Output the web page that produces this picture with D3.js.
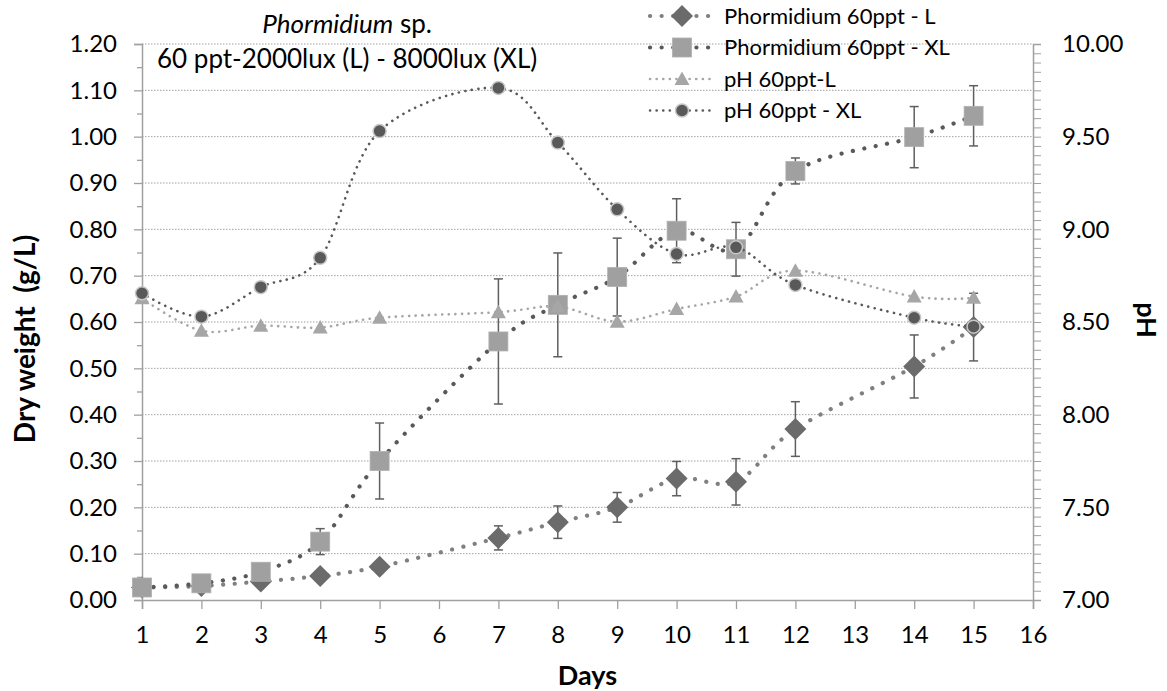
<!DOCTYPE html>
<html>
<head>
<meta charset="utf-8">
<script src="https://cdn.jsdelivr.net/npm/d3@7"></script>
<style>
  body { margin: 0; background: #fff; }
  svg { font-family: Lato, "Liberation Sans", sans-serif; }
</style>
</head>
<body>
<script>
// days for every series
var days = [1, 2, 3, 4, 5, 7, 8, 9, 10, 11, 12, 14, 15];

// dry weight g/L, 2000 lux (L) and its error
var dwL    = [0.027, 0.030, 0.040, 0.052, 0.072, 0.134, 0.168, 0.200, 0.262, 0.255, 0.369, 0.504, 0.589];
var dwLerr = [0, 0, 0, 0, 0, 0.026, 0.035, 0.032, 0.037, 0.050, 0.059, 0.068, 0.073];

// dry weight g/L, 8000 lux (XL) and its error
var dwXL    = [0.027, 0.036, 0.061, 0.126, 0.300, 0.558, 0.637, 0.697, 0.797, 0.757, 0.926, 0.999, 1.045];
var dwXLerr = [0, 0, 0, 0.028, 0.082, 0.135, 0.112, 0.084, 0.069, 0.058, 0.028, 0.066, 0.065];

// pH
var phL  = [8.628, 8.453, 8.480, 8.470, 8.523, 8.553, 8.583, 8.502, 8.570, 8.637, 8.777, 8.637, 8.631];
var phXL = [8.655, 8.529, 8.688, 8.846, 9.530, 9.763, 9.468, 9.108, 8.867, 8.903, 8.700, 8.523, 8.475];

var xTicks = d3.range(1, 17);
var yTicks = d3.range(0, 1.21, 0.1);
var y2Ticks = [7, 7.5, 8, 8.5, 9, 9.5, 10];

var legendNames = ["Phormidium 60ppt - L", "Phormidium 60ppt - XL", "pH 60ppt-L", "pH 60ppt - XL"];

var W = 1167, H = 691;
var pLeft = 142, pRight = 1033, pTop = 44, pBottom = 600;
var axisColor = "#a0a0a0";

var svg = d3.select("body").append("svg")
    .attr("width", W)
    .attr("height", H);

var x = d3.scaleLinear().domain([1, 16]).range([pLeft, pRight]);
var y = d3.scaleLinear().domain([0, 1.2]).range([pBottom, pTop]);
var y2 = d3.scaleLinear().domain([7, 10]).range([pBottom, pTop]);

// gridlines
svg.append("g")
   .selectAll("line")
   .data(yTicks.slice(1))
   .enter().append("line")
   .attr("x1", pLeft).attr("x2", pRight)
   .attr("y1", function(d) { return y(d); })
   .attr("y2", function(d) { return y(d); })
   .attr("stroke", "#a0a0a0")
   .attr("stroke-width", 1)
   .attr("stroke-dasharray", "1.5,1.5");

// left axis, minor ticks first
svg.append("g")
   .attr("transform", "translate(" + pLeft + ",0)")
   .call(d3.axisLeft(y).tickValues(d3.range(0.05, 1.2, 0.1)).tickSize(5).tickFormat(""))
   .call(function(g) { g.select(".domain").remove(); g.selectAll("line").attr("stroke", axisColor).attr("stroke-width", 1.3); });

var yAxis = svg.append("g")
   .attr("transform", "translate(" + pLeft + ",0)")
   .call(d3.axisLeft(y).tickValues(yTicks).tickSize(8).tickPadding(17).tickFormat(d3.format(".2f")));
yAxis.select(".domain").attr("stroke", axisColor).attr("stroke-width", 1.5);
yAxis.selectAll("line").attr("stroke", axisColor).attr("stroke-width", 1.3);
yAxis.selectAll("text").attr("font-size", 24).attr("fill", "#000").attr("font-family", "Lato");

// right axis
var y2Axis = svg.append("g")
   .attr("transform", "translate(" + pRight + ",0)")
   .call(d3.axisRight(y2).tickValues(d3.range(7, 10.001, 0.05)).tickSize(8).tickFormat(""));
y2Axis.select(".domain").attr("stroke", axisColor).attr("stroke-width", 1.5);
y2Axis.selectAll("line").attr("stroke", axisColor).attr("stroke-width", 1);

svg.append("g")
   .selectAll("text")
   .data(y2Ticks)
   .enter().append("text")
   .attr("x", pRight + 29)
   .attr("y", function(d) { return y2(d); })
   .attr("dy", "0.35em")
   .attr("font-size", 24)
   .text(d3.format(".2f"));

// bottom axis
var xAxis = svg.append("g")
   .attr("transform", "translate(0," + pBottom + ")")
   .call(d3.axisBottom(x).tickValues(xTicks).tickSize(9).tickPadding(17));
xAxis.select(".domain").attr("stroke", axisColor).attr("stroke-width", 1.5);
xAxis.selectAll("line").attr("stroke", axisColor).attr("stroke-width", 1.3);
xAxis.selectAll("text").attr("font-size", 24).attr("fill", "#000").attr("font-family", "Lato");

// axis titles
svg.append("text")
   .attr("x", (pLeft + pRight) / 2).attr("y", 685)
   .attr("text-anchor", "middle")
   .attr("font-size", 27).attr("font-weight", "bold")
   .text("Days");

svg.append("text")
   .attr("transform", "translate(35,339) rotate(-90)")
   .attr("text-anchor", "middle")
   .attr("font-size", 28).attr("font-weight", "bold")
   .attr("xml:space", "preserve")
   .text("Dry weight  (g/L)");

svg.append("text")
   .attr("transform", "translate(1137,320) rotate(90)")
   .attr("text-anchor", "middle")
   .attr("font-size", 27).attr("font-weight", "bold")
   .text("pH");

// chart title: second line starts at the plot's left, first line centred on it
var t2 = svg.append("text")
   .attr("x", 157).attr("y", 68)
   .attr("font-size", 26)
   .text("60 ppt-2000lux (L) - 8000lux (XL)");
var tMid = 157 + t2.node().getComputedTextLength() / 2;

var t1 = svg.append("text")
   .attr("x", tMid).attr("y", 33)
   .attr("text-anchor", "middle")
   .attr("font-size", 26);
t1.append("tspan").attr("font-style", "italic").text("Phormidium");
t1.append("tspan").text(" sp.");

// series setup
function pts(vals, scale) {
  return days.map(function(d, i) { return { x: x(d), y: scale(vals[i]), v: vals[i], i: i }; });
}

var series = [
  { name: legendNames[0], data: pts(dwL, y), err: dwLerr, scale: y, vals: dwL, line: "#808080", lw: 4.2, dash: "0.1,11.5", shape: "diamond", fill: "#6b6b6b", size: 22 },
  { name: legendNames[1], data: pts(dwXL, y), err: dwXLerr, scale: y, vals: dwXL, line: "#595959", lw: 4.2, dash: "0.1,11.5", shape: "square", fill: "#a0a0a0", size: 19 },
  { name: legendNames[2], data: pts(phL, y2), err: null, line: "#a6a6a6", lw: 2.6, dash: "0.1,6.5", shape: "triangle", fill: "#a6a6a6", size: 15 },
  { name: legendNames[3], data: pts(phXL, y2), err: null, line: "#595959", lw: 2.6, dash: "0.1,6.5", shape: "circle", fill: "#595959", size: 13 }
];

var line = d3.line()
   .x(function(d) { return d.x; })
   .y(function(d) { return d.y; })
   .curve(d3.curveCatmullRom.alpha(0));

function drawMarker(g, shape, fill, size) {
  if (shape == "diamond") {
    var h = size / 2;
    g.append("path").attr("d", "M0," + (-h) + "L" + h + ",0L0," + h + "L" + (-h) + ",0Z")
     .attr("fill", fill);
  } else if (shape == "square") {
    g.append("rect").attr("x", -size / 2).attr("y", -size / 2)
     .attr("width", size).attr("height", size)
     .attr("fill", fill).attr("stroke", "#b0b0b0").attr("stroke-width", 0.8);
  } else if (shape == "triangle") {
    var s = size / 2;
    g.append("path").attr("d", "M0," + (-s) + "L" + s + "," + (s * 0.8) + "L" + (-s) + "," + (s * 0.8) + "Z")
     .attr("fill", fill);
  } else {
    g.append("circle").attr("r", size / 2)
     .attr("fill", fill).attr("stroke", "#c8c8c8").attr("stroke-width", 1.5);
  }
}

series.forEach(function(s) {
  var g = svg.append("g");

  g.append("path")
   .datum(s.data)
   .attr("d", line)
   .attr("fill", "none")
   .attr("stroke", s.line)
   .attr("stroke-width", s.lw)
   .attr("stroke-linecap", "round")
   .attr("stroke-dasharray", s.dash);

  // error bars
  if (s.err) {
    var eb = g.selectAll(".err")
      .data(s.data.filter(function(d) { return s.err[d.i] > 0; }))
      .enter().append("g");
    eb.append("line")
      .attr("x1", function(d) { return d.x; })
      .attr("x2", function(d) { return d.x; })
      .attr("y1", function(d) { return s.scale(s.vals[d.i] + s.err[d.i]); })
      .attr("y2", function(d) { return s.scale(s.vals[d.i] - s.err[d.i]); });
    eb.append("line")
      .attr("x1", function(d) { return d.x - 4.5; })
      .attr("x2", function(d) { return d.x + 4.5; })
      .attr("y1", function(d) { return s.scale(s.vals[d.i] + s.err[d.i]); })
      .attr("y2", function(d) { return s.scale(s.vals[d.i] + s.err[d.i]); });
    eb.append("line")
      .attr("x1", function(d) { return d.x - 4.5; })
      .attr("x2", function(d) { return d.x + 4.5; })
      .attr("y1", function(d) { return s.scale(s.vals[d.i] - s.err[d.i]); })
      .attr("y2", function(d) { return s.scale(s.vals[d.i] - s.err[d.i]); });
    eb.selectAll("line").attr("stroke", "#5f5f5f").attr("stroke-width", 1.5);
  }

  g.selectAll(".mk")
   .data(s.data)
   .enter().append("g")
   .attr("transform", function(d) { return "translate(" + d.x + "," + d.y + ")"; })
   .each(function() { drawMarker(d3.select(this), s.shape, s.fill, s.size); });
});

// legend
var legend = svg.selectAll(".legend")
   .data(series)
   .enter().append("g")
   .attr("class", "legend")
   .attr("transform", function(d, i) { return "translate(0," + (16 + i * 31.5) + ")"; });

legend.append("line")
   .attr("x1", 650).attr("x2", 714)
   .attr("y1", 0).attr("y2", 0)
   .attr("stroke", function(d) { return d.line; })
   .attr("stroke-width", function(d) { return d.lw; })
   .attr("stroke-linecap", "round")
   .attr("stroke-dasharray", function(d) { return d.dash; });

legend.append("g")
   .attr("transform", "translate(682,0)")
   .each(function(d) { drawMarker(d3.select(this), d.shape, d.fill, d.size); });

legend.append("text")
   .attr("x", 724).attr("y", 0)
   .attr("dy", "0.35em")
   .attr("font-size", 22)
   .text(function(d) { return d.name; });
</script>
</body>
</html>
